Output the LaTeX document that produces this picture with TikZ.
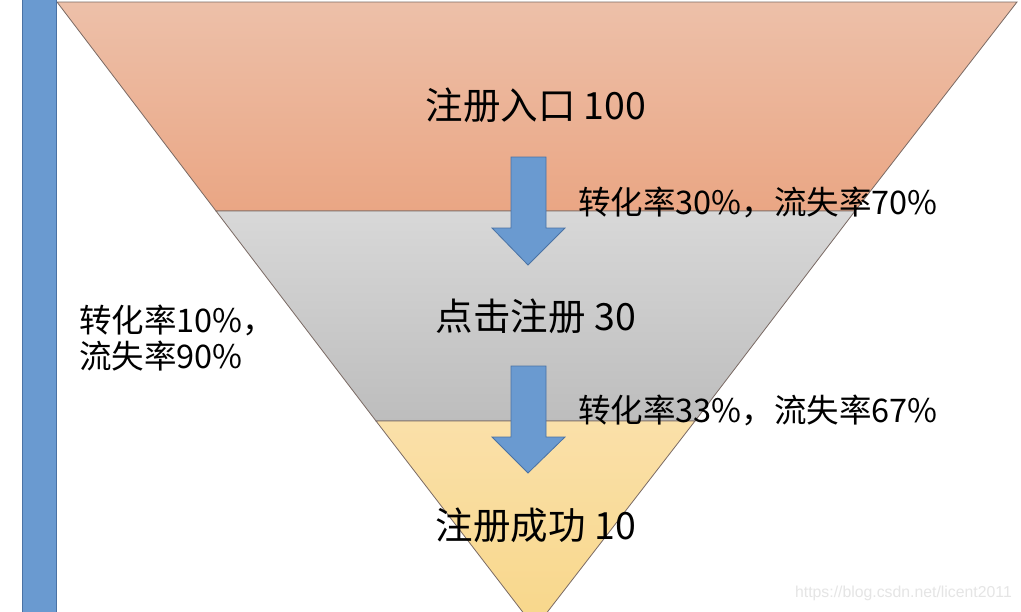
\documentclass[tikz,border=0pt]{standalone}
\usepackage{fontspec}
\newfontfamily\cjk{Noto Sans CJK SC}
\setsansfont{Liberation Sans}
\definecolor{barblue}{HTML}{6A9AD0}
\definecolor{barline}{HTML}{4A72A4}
\definecolor{edge}{HTML}{7A6A64}
\definecolor{orTop}{HTML}{EDC0A9}
\definecolor{orBot}{HTML}{EAA684}
\definecolor{grTop}{HTML}{D8D8D8}
\definecolor{grBot}{HTML}{BDBDBD}
\definecolor{yeTop}{HTML}{FAE0A9}
\definecolor{yeBot}{HTML}{F8D78A}
\tikzset{
  seg/.style={draw=edge, line width=0.8pt},
  downarrow/.style={fill=barblue, draw=barline, line width=0.8pt},
  stage/.style={font=\cjk\fontsize{37.5}{40}\selectfont, text=black, inner sep=0pt},
  rate/.style={font=\cjk\fontsize{32.5}{36}\selectfont, text=black, inner sep=0pt, anchor=west},
  watermark/.style={font=\sffamily\fontsize{15.8}{18}\selectfont, text=black!10, inner sep=0pt, anchor=east}
}
\begin{document}
\begin{tikzpicture}[x=1pt,y=-1pt]
\useasboundingbox (0,0) rectangle (1021,611);
\clip (0,0) rectangle (1021,611);
\fill[white] (0,0) rectangle (1021,611);
% funnel
\shade[top color=orTop, bottom color=orBot] (57,2) -- (1017,2) -- (855,211) -- (216,211) -- cycle;
\draw[seg] (57,2) -- (1017,2) -- (855,211) -- (216,211) -- cycle;
\shade[top color=grTop, bottom color=grBot] (216,211) -- (855,211) -- (695,421) -- (376,421) -- cycle;
\draw[seg] (216,211) -- (855,211) -- (695,421) -- (376,421) -- cycle;
\shade[top color=yeTop, bottom color=yeBot] (376,421) -- (695,421) -- (535,628) -- cycle;
\draw[seg] (376,421) -- (695,421) -- (535,628) -- cycle;
% left bar
\filldraw[fill=barblue, draw=barline, line width=0.8pt] (22,-2) rectangle (56,613);
% arrows
\path[downarrow] (511,157) -- (546,157) -- (546,228) -- (565,228) -- (528,265) -- (492,228) -- (511,228) -- cycle;
\path[downarrow] (511,366) -- (546,366) -- (546,437) -- (565,437) -- (528,473) -- (492,437) -- (511,437) -- cycle;
% texts
\node[stage] (s1) at (536,105) {注册入口 100};
\node[stage] (s2) at (536,316) {点击注册 30};
\node[stage] (s3) at (536,525) {注册成功 10};
\node[rate] (r1) at (578,202) {转化率30\%，流失率70\%};
\node[rate] (r2) at (578,410) {转化率33\%，流失率67\%};
\node[rate, align=left] (r0) at (79,338) {转化率10\%，\\流失率90\%};
\node[watermark] (wm) at (1012,593) {https://blog.csdn.net/licent2011};
\end{tikzpicture}
\end{document}
